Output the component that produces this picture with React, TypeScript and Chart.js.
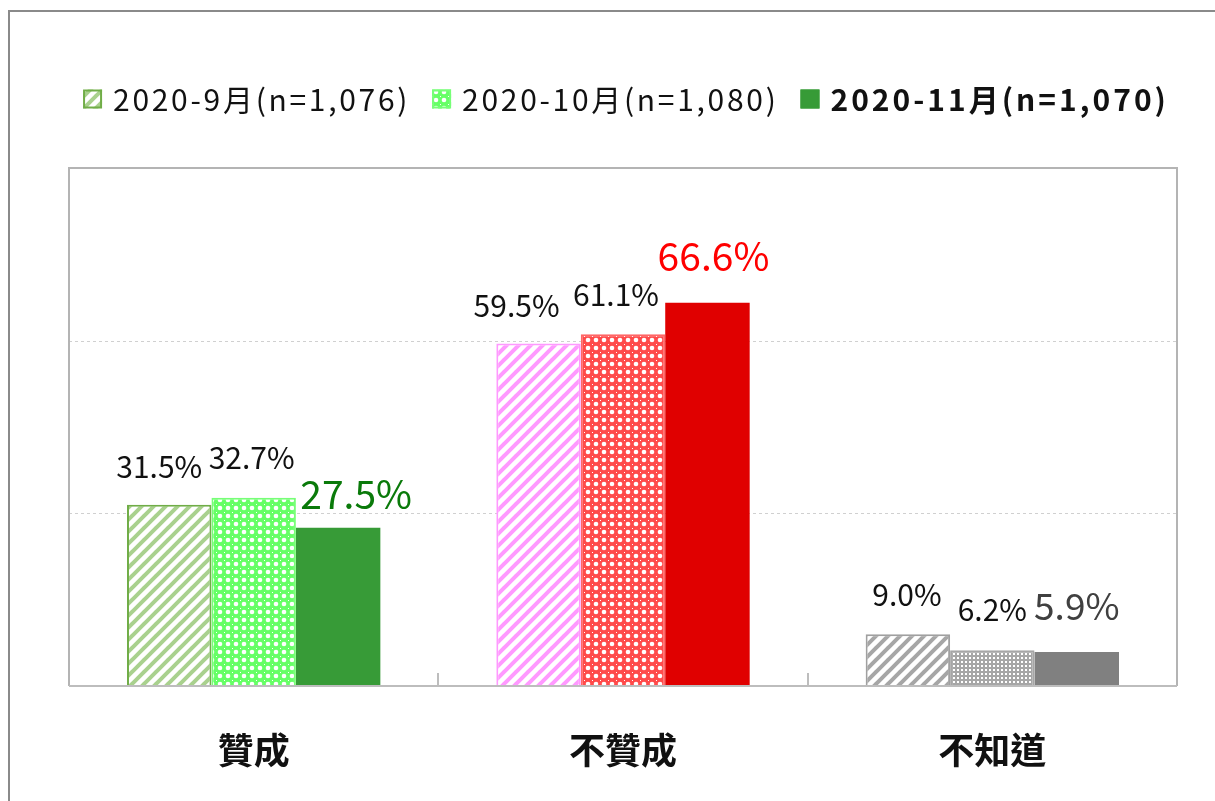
import React, { useEffect, useRef } from "react";
import { Chart, registerables } from "chart.js";

Chart.register(...registerables);

const categories = ["贊成", "不贊成", "不知道"];
const seriesNames = ["2020-9月(n=1,076)", "2020-10月(n=1,080)", "2020-11月(n=1,070)"];
const sep2020 = [31.5, 59.5, 9.0];
const oct2020 = [32.7, 61.1, 6.2];
const nov2020 = [27.5, 66.6, 5.9];
const yMax = 90;
const yStep = 30;

const FONT = "'Noto Sans CJK TC', 'Noto Sans', sans-serif";

// styling tables (not data)
const labelDx = [
  [-10, -22, -1],
  [-2, -7, 0],
  [18, 6, 0],
];
const labelGap = [
  [27, 27, 28],
  [29, 28, 29],
  [19, 32, 32],
];

function makeStripe(color: string, bg = "#ffffff") {
  const s = 12;
  const c = document.createElement("canvas");
  c.width = s;
  c.height = s;
  const g = c.getContext("2d")!;
  g.fillStyle = bg;
  g.fillRect(0, 0, s, s);
  g.strokeStyle = color;
  g.lineWidth = 4;
  g.lineCap = "square";
  for (const o of [-s, 0, s]) {
    g.beginPath();
    g.moveTo(o, s);
    g.lineTo(o + s, 0);
    g.stroke();
  }
  return g.createPattern(c, "repeat")!;
}

function makeLattice(color: string) {
  const s = 8;
  const c = document.createElement("canvas");
  c.width = s;
  c.height = s;
  const g = c.getContext("2d")!;
  g.fillStyle = color;
  g.fillRect(0, 0, s, s);
  g.fillStyle = "#ffffff";
  g.beginPath();
  g.arc(4, 4, 2.3, 0, Math.PI * 2);
  g.fill();
  g.fillRect(0, 0, 1, 1);
  return g.createPattern(c, "repeat")!;
}

function makeDots(color: string) {
  const s = 4;
  const c = document.createElement("canvas");
  c.width = s;
  c.height = s;
  const g = c.getContext("2d")!;
  g.fillStyle = color;
  g.fillRect(0, 0, s, s);
  g.fillStyle = "#ffffff";
  g.fillRect(1, 1, 2, 2);
  return g.createPattern(c, "repeat")!;
}

export default function App() {
  const ref = useRef<HTMLCanvasElement>(null);

  useEffect(() => {
    const canvas = ref.current!;
    const sepFill = [makeStripe("#a9d18e"), makeStripe("#ff99ff"), makeStripe("#a6a6a6")];
    const octFill = [makeLattice("#66ff66"), makeLattice("#ff4b4b"), makeDots("#a6a6a6")];
    const novFill = ["#379b37", "#e00000", "#808080"];
    const sepBorder = ["#70ad47", "#ff99ff", "#a0a0a0"];
    const octBorder = ["#77ff77", "#ff6666", "#a6a6a6"];

    const framePlugin = {
      id: "frame",
      beforeDatasetsDraw(chart: any) {
        const { ctx, chartArea: a, scales } = chart;
        const y = scales.y;
        const x = scales.x;
        ctx.save();
        ctx.strokeStyle = "#d0d0d0";
        ctx.lineWidth = 1;
        ctx.setLineDash([3, 3]);
        for (let v = yStep; v < yMax; v += yStep) {
          const py = Math.round(y.getPixelForValue(v)) + 0.5;
          ctx.beginPath();
          ctx.moveTo(a.left, py);
          ctx.lineTo(a.right, py);
          ctx.stroke();
        }
        ctx.setLineDash([]);
        ctx.strokeStyle = "#b4b4b4";
        ctx.lineWidth = 2;
        ctx.beginPath();
        ctx.moveTo(a.left, a.bottom);
        ctx.lineTo(a.left, a.top);
        ctx.lineTo(a.right, a.top);
        ctx.lineTo(a.right, a.bottom);
        ctx.stroke();
        ctx.strokeStyle = "#bdbdbd";
        ctx.beginPath();
        ctx.moveTo(a.left, a.bottom);
        ctx.lineTo(a.right, a.bottom);
        for (let i = 0; i < categories.length - 1; i++) {
          const bx = Math.round((x.getPixelForValue(i) + x.getPixelForValue(i + 1)) / 2);
          ctx.moveTo(bx, a.bottom);
          ctx.lineTo(bx, a.bottom - 13);
        }
        ctx.stroke();
        ctx.restore();
      },
      afterDatasetsDraw(chart: any) {
        const { ctx, chartArea: a, scales } = chart;
        ctx.save();
        ctx.strokeStyle = "#bdbdbd";
        ctx.lineWidth = 2;
        ctx.beginPath();
        ctx.moveTo(a.left, a.bottom);
        ctx.lineTo(a.right, a.bottom);
        ctx.stroke();

        // value labels
        ctx.textAlign = "center";
        ctx.textBaseline = "alphabetic";
        chart.data.datasets.forEach((ds: any, di: number) => {
          const meta = chart.getDatasetMeta(di);
          meta.data.forEach((bar: any, i: number) => {
            const v = ds.data[i];
            let color = "#111111";
            let font = `normal 30px ${FONT}`;
            if (di === 2) {
              color = ["#0a7a0a", "#ff0000", "#404040"][i];
              font = i === 2 ? `normal 37px ${FONT}` : `normal 39px ${FONT}`;
            }
            ctx.fillStyle = color;
            ctx.font = font;
            ctx.fillText(v.toFixed(1) + "%", bar.x + labelDx[di][i], bar.y - labelGap[di][i]);
          });
        });

        // category labels
        ctx.fillStyle = "#111111";
        ctx.font = `bold 36px ${FONT}`;
        ctx.textBaseline = "middle";
        categories.forEach((c, i) => {
          ctx.fillText(c, scales.x.getPixelForValue(i), 750);
        });

        // legend
        const icons = [sepFill[0], octFill[0], novFill[0]];
        const iconBorders = [sepBorder[0], octBorder[0], novFill[0]];
        const fonts = [`normal 30px ${FONT}`, `normal 30px ${FONT}`, `bold 30px ${FONT}`];
        const spacing = ["2.7px", "2.7px", "3px"];
        const iconSize = 19;
        const gapIcon = 11;
        const gapItem = 22;
        let total = 0;
        const widths = seriesNames.map((n, i) => {
          ctx.font = fonts[i];
          (ctx as any).letterSpacing = spacing[i];
          return ctx.measureText(n).width;
        });
        widths.forEach((w, i) => {
          total += iconSize + gapIcon + w + (i < widths.length - 1 ? gapItem : 0);
        });
        let lx = 626 - total / 2;
        const ly = 99;
        ctx.textAlign = "left";
        ctx.textBaseline = "middle";
        seriesNames.forEach((n, i) => {
          ctx.fillStyle = icons[i];
          ctx.fillRect(lx, ly - iconSize / 2, iconSize, iconSize);
          ctx.strokeStyle = iconBorders[i];
          ctx.lineWidth = 2;
          ctx.strokeRect(lx + 1, ly - iconSize / 2 + 1, iconSize - 2, iconSize - 2);
          lx += iconSize + gapIcon;
          ctx.fillStyle = "#111111";
          ctx.font = fonts[i];
          (ctx as any).letterSpacing = spacing[i];
          ctx.fillText(n, lx, ly + 1);
          lx += widths[i] + gapItem;
        });
        (ctx as any).letterSpacing = "0px";
        ctx.restore();
      },
    };

    const chart = new Chart(canvas, {
      type: "bar",
      data: {
        labels: categories,
        datasets: [
          {
            label: seriesNames[0],
            data: sep2020,
            backgroundColor: sepFill,
            borderColor: sepBorder,
            borderWidth: 2,
          },
          {
            label: seriesNames[1],
            data: oct2020,
            backgroundColor: octFill,
            borderColor: octBorder,
            borderWidth: 2,
          },
          {
            label: seriesNames[2],
            data: nov2020,
            backgroundColor: novFill,
            borderColor: novFill,
            borderWidth: 0,
          },
        ],
      },
      options: {
        animation: false,
        responsive: false,
        maintainAspectRatio: false,
        layout: { padding: { left: 69, top: 168, right: 38, bottom: 115 } },
        plugins: { legend: { display: false }, tooltip: { enabled: false } },
        datasets: { bar: { barPercentage: 1, categoryPercentage: 0.686, borderSkipped: "start" } },
        scales: {
          x: { display: false },
          y: { display: false, min: 0, max: yMax },
        },
      },
      plugins: [framePlugin],
    });
    return () => chart.destroy();
  }, []);

  return (
    <div style={{ position: "absolute", left: 0, top: 0, width: 1215, height: 801, background: "#fff", overflow: "hidden" }}>
      <div
        style={{
          position: "absolute",
          left: 8,
          top: 10,
          width: 1400,
          height: 1000,
          borderLeft: "2px solid #8a8a8a",
          borderTop: "2px solid #8a8a8a",
        }}
      />
      <canvas ref={ref} width={1215} height={801} style={{ position: "absolute", left: 0, top: 0, width: 1215, height: 801 }} />
    </div>
  );
}
